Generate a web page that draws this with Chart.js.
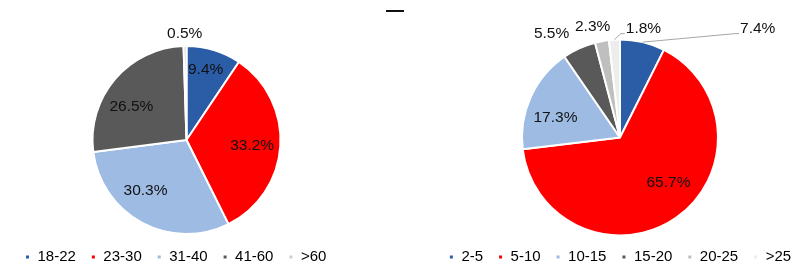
<!DOCTYPE html>
<html>
<head>
<meta charset="utf-8">
<script src="https://cdn.jsdelivr.net/npm/chart.js@4.4.1/dist/chart.umd.min.js"></script>
<style>
    html, body { margin: 0; padding: 0; background: #fff; }
    #wrap { position: relative; width: 800px; height: 273px; overflow: hidden; }
    .box { position: absolute; top: 0; height: 273px; }
    #leftBox { left: 0; width: 373px; }
    #rightBox { left: 430px; width: 380px; }
    .dash { position: absolute; left: 386px; top: 10px; width: 18px; height: 2px; background: #111; }
</style>
</head>
<body>
<div id="wrap">
    <div class="dash"></div>
    <div class="box" id="leftBox"><canvas id="ageChart"></canvas></div>
    <div class="box" id="rightBox"><canvas id="yearChart"></canvas></div>
</div>
<script>
// 年龄分布
const ageLabels = ['18-22', '23-30', '31-40', '41-60', '>60'];
const ageValues = [9.4, 33.2, 30.3, 26.5, 0.5];
const ageColors = ['#2B5CA6', '#FF0000', '#9DBBE3', '#595959', '#D0D0D0'];

// 年限分布
const yearLabels = ['2-5', '5-10', '10-15', '15-20', '20-25', '>25'];
const yearValues = [7.4, 65.7, 17.3, 5.5, 2.3, 1.8];
const yearColors = ['#2B5CA6', '#FF0000', '#9DBBE3', '#595959', '#BFBFBF', '#EDEDED'];

const FONT = '"Liberation Sans", Arial, sans-serif';

// 数据标签位置：in = 扇区内, out = 扇区外；nudge 为像素微调
const ageLabelOpts = [
    { pos: 'in', nudge: [0, -7] },
    { pos: 'in', nudge: [0, 1] },
    { pos: 'in', nudge: [-10, -7] },
    { pos: 'in', nudge: [-5, 9] },
    { pos: 'out', nudge: [0, 6] }
];
const yearLabelOpts = [
    { pos: 'out', nudge: [111, 4], leader: true },
    { pos: 'in', nudge: [9, -11] },
    { pos: 'in', nudge: [-2, 8] },
    { pos: 'out', nudge: [-20, 2] },
    { pos: 'out', nudge: [-6, 3] },
    { pos: 'out', nudge: [30, 7], leader: true }
];

const pieLabels = {
    id: 'pieLabels',
    afterDatasetsDraw(chart, args, opts) {
        const ctx = chart.ctx;
        const meta = chart.getDatasetMeta(0);
        const values = chart.data.datasets[0].data;
        ctx.save();
        ctx.font = '15.5px ' + FONT;
        ctx.textBaseline = 'middle';
        ctx.textAlign = 'center';
        meta.data.forEach((arc, i) => {
            const p = arc.getProps(['x', 'y', 'startAngle', 'endAngle', 'outerRadius'], true);
            const o = opts.items[i];
            const mid = (p.startAngle + p.endAngle) / 2;
            const r = o.pos === 'in' ? p.outerRadius * 0.7 : p.outerRadius + 18;
            const lx = p.x + Math.cos(mid) * r + o.nudge[0];
            const ly = p.y + Math.sin(mid) * r + o.nudge[1];
            const text = values[i].toFixed(1) + '%';
            if (o.leader) {
                const w = ctx.measureText(text).width;
                const left = lx - w / 2;
                ctx.strokeStyle = '#A6A6A6';
                ctx.lineWidth = 1;
                ctx.beginPath();
                ctx.moveTo(p.x + Math.cos(mid) * p.outerRadius, p.y + Math.sin(mid) * p.outerRadius);
                ctx.lineTo(left - 5, ly + 5);
                ctx.lineTo(left - 1, ly + 5);
                ctx.stroke();
            }
            ctx.fillStyle = '#111';
            ctx.fillText(text, lx, ly);
        });
        ctx.restore();
    }
};

function makePie(id, labels, values, colors, labelOpts, padTop, radius, padSide, legendAlign) {
    return new Chart(document.getElementById(id), {
        type: 'pie',
        data: {
            labels: labels,
            datasets: [{
                data: values,
                backgroundColor: colors,
                borderColor: '#ffffff',
                borderWidth: 2,
                hoverOffset: 0,
                radius: radius
            }]
        },
        options: {
            responsive: true,
            maintainAspectRatio: false,
            animation: false,
            layout: { padding: { top: padTop, bottom: -1.5, left: padSide, right: padSide } },
            plugins: {
                tooltip: { enabled: false },
                legend: {
                    position: 'bottom',
                    align: legendAlign,
                    labels: {
                        usePointStyle: true,
                        pointStyle: 'rect',
                        boxWidth: 5,
                        boxHeight: 5,
                        padding: 15,
                        color: '#000',
                        font: { family: FONT, size: 15 }
                    }
                },
                pieLabels: { items: labelOpts }
            }
        },
        plugins: [pieLabels]
    });
}

makePie('ageChart', ageLabels, ageValues, ageColors, ageLabelOpts, 45.5, 94, 10, 'start');
makePie('yearChart', yearLabels, yearValues, yearColors, yearLabelOpts, 40.5, 98, 0, 'center');
</script>
</body>
</html>
